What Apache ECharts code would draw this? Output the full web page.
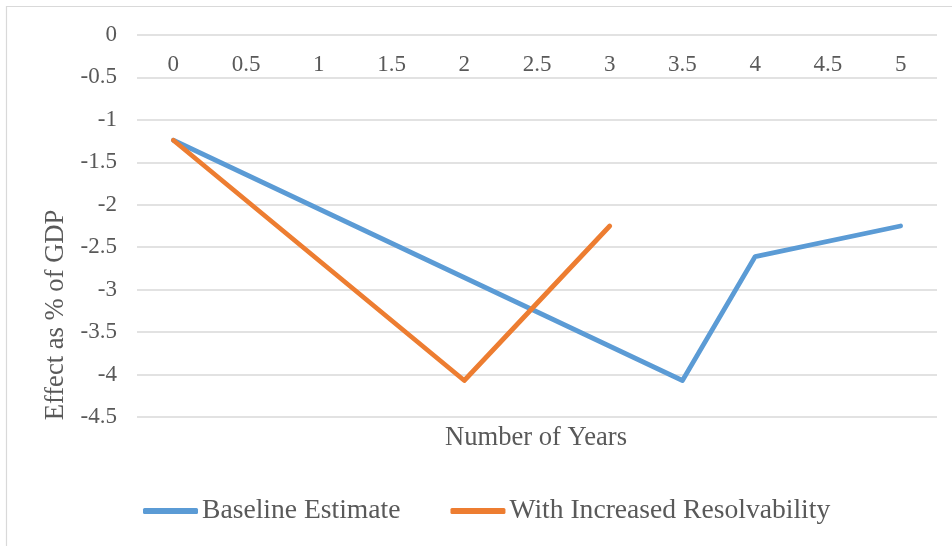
<!DOCTYPE html>
<html><head><meta charset="utf-8">
<script src="https://cdn.jsdelivr.net/npm/echarts@6/dist/echarts.min.js"></script>
<style>html,body{margin:0;padding:0;background:#fff}#c{width:952px;height:546px}</style>
</head><body><div id="c"></div>
<script>
const categories = ['0','0.5','1','1.5','2','2.5','3','3.5','4','4.5','5'];
const baseline = [-1.24, null, null, null, null, null, null, -4.07, -2.61, null, -2.25];
const resolvability = [-1.24, null, null, null, -4.07, null, -2.25, null, null, null, null];
const seriesNames = ['Baseline Estimate', 'With Increased Resolvability'];
const xTitle = 'Number of Years';
const yTitle = 'Effect as % of GDP';
const font = '"Liberation Serif", "Times New Roman", serif';
const chart = echarts.init(document.getElementById('c'));
chart.setOption({
  animation: false,
  textStyle: {fontFamily: font},
  graphic: [
    {type: 'rect', shape: {x: 6.5, y: 6.5, width: 1000, height: 600}, style: {fill: 'none', stroke: '#d9d9d9', lineWidth: 1.2}, silent: true},
    {type: 'text', x: 536, y: 438, style: {text: xTitle, font: '26.6px ' + font, fill: '#595959', align: 'center', verticalAlign: 'middle'}},
    {type: 'text', x: 56, y: 315, rotation: Math.PI/2, style: {text: yTitle, font: '26.6px ' + font, fill: '#595959', align: 'center', verticalAlign: 'middle'}}
  ],
  legend: {
    top: 491, left: 138, itemGap: 50, itemWidth: 55, itemHeight: 6, icon: 'roundRect',
    textStyle: {fontSize: 27.6, lineHeight: 30, color: '#595959', fontFamily: font, padding: [0,0,0,-1]},
    data: seriesNames
  },
  grid: {left: 137, right: 15, top: 35, bottom: 129},
  xAxis: {
    type: 'category', data: categories, position: 'top', boundaryGap: true,
    axisLine: {show: false}, axisTick: {show: false},
    axisLabel: {inside: true, margin: 18, fontSize: 23, color: '#595959', fontFamily: font, interval: 0},
    splitLine: {show: false}
  },
  yAxis: {
    type: 'value', min: -4.5, max: 0, interval: 0.5,
    axisLine: {show: false}, axisTick: {show: false},
    axisLabel: {margin: 20, fontSize: 23, color: '#595959', fontFamily: font},
    splitLine: {lineStyle: {color: '#d9d9d9', width: 1.5}}
  },
  series: [
    {name: seriesNames[0], type: 'line', data: baseline, connectNulls: true, showSymbol: false, symbol: 'none',
     lineStyle: {color: '#5B9BD5', width: 4.75, cap: 'round', join: 'round'}, itemStyle: {color: '#5B9BD5'}},
    {name: seriesNames[1], type: 'line', data: resolvability, connectNulls: true, showSymbol: false, symbol: 'none',
     lineStyle: {color: '#ED7D31', width: 4.75, cap: 'round', join: 'round'}, itemStyle: {color: '#ED7D31'}}
  ]
});
</script></body></html>
